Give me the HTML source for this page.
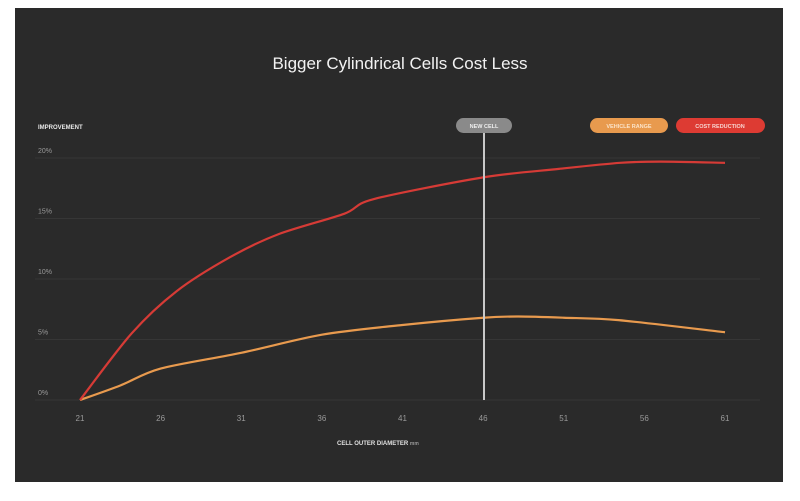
<!DOCTYPE html>
<html><head><meta charset="utf-8"><style>
body{margin:0;background:#fff;width:800px;height:501px;overflow:hidden;font-family:"Liberation Sans",sans-serif}
svg{display:block}
</style></head><body>
<svg id="chart" width="800" height="501">
<rect x="15" y="8" width="768" height="474" fill="#2a2a2a"/>
<text x="400" y="69" text-anchor="middle" fill="#f2f2f2" font-size="17">Bigger Cylindrical Cells Cost Less</text>
<text x="38" y="129" fill="#e8e8e8" font-size="6" font-weight="bold">IMPROVEMENT</text>
<text x="337" y="445" fill="#e0e0e0" font-size="6" font-weight="bold">CELL OUTER DIAMETER <tspan fill="#999" font-size="5">mm</tspan></text>
<g id="grid"></g><g id="xt"></g><g id="series"></g>
<line x1="484" y1="133" x2="484" y2="400" stroke="#c8c8c8" stroke-width="2"/>
<rect x="456" y="118" width="56" height="15" rx="7.5" fill="#8a8a8a"/>
<text x="484" y="128" text-anchor="middle" fill="#eee" font-size="5.5" font-weight="bold">NEW CELL</text>
<rect x="590" y="118" width="78" height="15" rx="7.5" fill="#e89a4e"/>
<text x="629" y="128" text-anchor="middle" fill="#fbe3c8" font-size="5.5" font-weight="bold">VEHICLE RANGE</text>
<rect x="676" y="118" width="89" height="15" rx="7.5" fill="#dd3b33"/>
<text x="720" y="128" text-anchor="middle" fill="#f8d4d0" font-size="5.5" font-weight="bold">COST REDUCTION</text>
</svg>
<script>
const yTicks=[0,5,10,15,20];
const xTicks=[21,26,31,36,41,46,51,56,61];
const costX=[21,24.2,27,30.3,33.3,37.4,39.2,46,50.7,54.5,57,61];
const costY=[0,5.5,9,11.8,13.7,15.4,16.6,18.4,19.1,19.6,19.7,19.6];
const rangeX=[21,23.5,26,31,36,41,46,48.2,51,54.4,61];
const rangeY=[0,1.2,2.6,3.9,5.4,6.2,6.8,6.9,6.8,6.6,5.6];
const NS="http://www.w3.org/2000/svg";
const xs=v=>80+(v-21)*(725-80)/40;
const ys=v=>400-v*(400-158)/20;
function mk(t,a,p){const e=document.createElementNS(NS,t);for(const k in a)e.setAttribute(k,a[k]);p.appendChild(e);return e;}
function smooth(X,Y){
 const P=X.map((x,i)=>[xs(x),ys(Y[i])]);
 let d='M'+P[0][0]+','+P[0][1];
 for(let i=0;i<P.length-1;i++){
  const p0=P[Math.max(0,i-1)],p1=P[i],p2=P[i+1],p3=P[Math.min(P.length-1,i+2)];
  const t=0.15;
  const c1=[p1[0]+(p2[0]-p0[0])*t,p1[1]+(p2[1]-p0[1])*t];
  const c2=[p2[0]-(p3[0]-p1[0])*t,p2[1]-(p3[1]-p1[1])*t];
  d+=' C'+c1+' '+c2+' '+p2;
 }
 return d;
}
const grid=document.getElementById('grid');
yTicks.forEach(v=>{
 const l=mk('line',{x1:35,x2:760,y1:ys(v),y2:ys(v),stroke:'#363636','stroke-width':1},grid);
 
 
 const t=mk('text',{x:38,y:ys(v)-5,fill:'#9a9a9a','font-size':7},grid);t.textContent=v+'%';
 
 
});
const xt=document.getElementById('xt');
xTicks.forEach(v=>{
 const t=mk('text',{x:xs(v),y:421,fill:'#9a9a9a','font-size':8,'text-anchor':'middle'},xt);t.textContent=v;
 
 
});
const s=document.getElementById('series');
const pr=mk('path',{d:smooth(rangeX,rangeY),fill:'none',stroke:'#e89a4e','stroke-width':2.2},s);


const pc=mk('path',{d:smooth(costX,costY),fill:'none',stroke:'#d63b36','stroke-width':2.2},s);


</script>
</body></html>
